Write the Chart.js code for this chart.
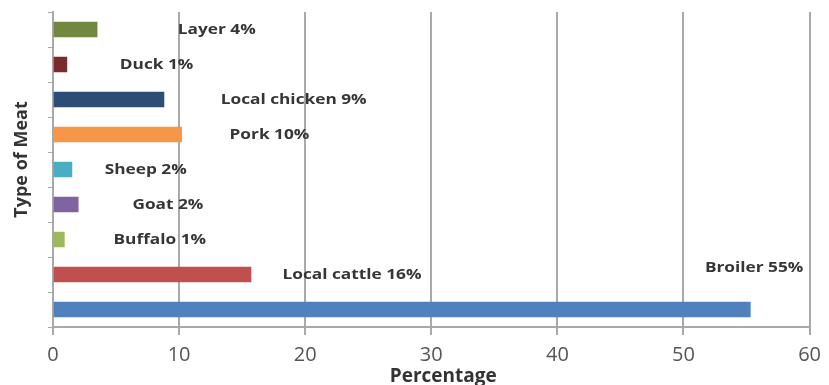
<!DOCTYPE html>
<html>
<head>
<meta charset="utf-8">
<script src="https://cdn.jsdelivr.net/npm/chart.js@4"></script>
<style>
  html, body { margin: 0; padding: 0; background: #fff; }
  #wrap { width: 829px; height: 385px; }
</style>
</head>
<body>
<div id="wrap"><canvas id="meatChart"></canvas></div>
<script>
// meat types, top to bottom
const categories = ['Layer', 'Duck', 'Local chicken', 'Pork', 'Sheep', 'Goat', 'Buffalo', 'Local cattle', 'Broiler'];
// share of consumption, %
const shares = [3.5, 1.1, 8.8, 10.2, 1.5, 2.0, 0.9, 15.7, 55.3];
const barColors = ['#71893f', '#7a2b2b', '#2c4d75', '#f79646', '#4bacc6', '#8064a2', '#9bbb59', '#c0504d', '#4f81bd'];
const xTicks = [0, 10, 20, 30, 40, 50, 60];
const xTitle = 'Percentage';
const yTitle = 'Type of Meat';

// where each text label starts (in axis units) and its vertical nudge
const labelStart = [9.9, 5.3, 13.3, 14.0, 4.1, 6.3, 4.8, 18.2, 51.7];
const labelNudge = [0, 0, 0, 0, 0, 0, 0, 0, -42];

const barLabels = {
  id: 'barLabels',
  afterDatasetsDraw(chart) {
    const ctx = chart.ctx;
    const xs = chart.scales.x;
    const area = chart.chartArea;
    const meta = chart.getDatasetMeta(0);
    ctx.save();
    ctx.font = 'bold 15px "Open Sans", sans-serif';
    ctx.fillStyle = '#363636';
    ctx.textBaseline = 'middle';
    ctx.textAlign = 'left';
    meta.data.forEach((bar, i) => {
      const txt = categories[i] + ' ' + Math.round(shares[i]) + '%';
      const x0 = xs.getPixelForValue(labelStart[i]);
      ctx.save();
      ctx.translate(x0, bar.y + labelNudge[i]);
      ctx.scale(1.15, 1);
      ctx.fillText(txt, 0, 0);
      ctx.restore();
    });

    // axis titles
    ctx.fillStyle = '#333';
    ctx.textAlign = 'center';
    ctx.font = 'bold 19px "Open Sans", sans-serif';
    ctx.fillText(xTitle, (area.left + area.right) / 2 + 12, 377);
    ctx.save();
    ctx.translate(22, (area.top + area.bottom) / 2 - 10);
    ctx.rotate(-Math.PI / 2);
    ctx.font = 'bold 18px "Open Sans", sans-serif';
    ctx.fillText(yTitle, 0, 0);
    ctx.restore();
    ctx.restore();
  }
};

const ctx = document.getElementById('meatChart');
new Chart(ctx, {
  type: 'bar',
  data: {
    labels: categories,
    datasets: [{
      data: shares,
      backgroundColor: barColors,
      barThickness: 15
    }]
  },
  plugins: [barLabels],
  options: {
    indexAxis: 'y',
    responsive: true,
    maintainAspectRatio: false,
    animation: false,
    layout: { padding: { top: 12, right: 19, left: 0, bottom: 0 } },
    plugins: {
      legend: { display: false },
      tooltip: { enabled: false }
    },
    scales: {
      x: {
        min: 0,
        max: 60,
        afterBuildTicks(scale) { scale.ticks = xTicks.map(v => ({ value: v })); },
        afterFit(scale) { scale.height = 58; },
        grid: { color: '#a9a9a9', lineWidth: 2, tickLength: 8 },
        border: { color: '#a9a9a9', width: 2 },
        ticks: { color: '#555', font: { family: '"Open Sans", sans-serif', size: 20 }, padding: 8 }
      },
      y: {
        afterFit(scale) { scale.width = 53; },
        grid: { display: true, drawOnChartArea: false, color: '#a9a9a9', tickLength: 5 },
        border: { color: '#a9a9a9', width: 2 },
        ticks: { display: false }
      }
    }
  }
});
</script>
</body>
</html>
